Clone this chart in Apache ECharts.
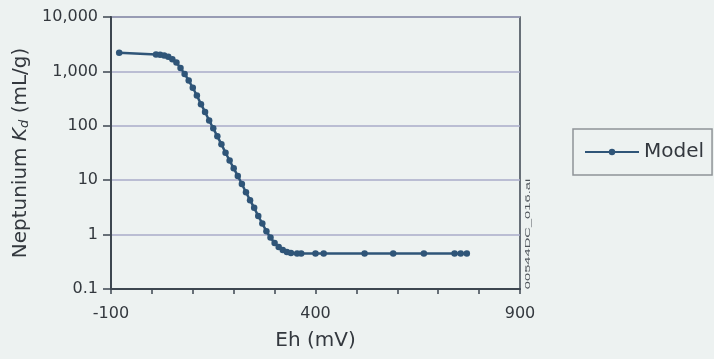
<!DOCTYPE html>
<html>
<head>
<meta charset="utf-8">
<script src="https://cdn.jsdelivr.net/npm/echarts@6/dist/echarts.min.js"></script>
<style>
  html, body {margin: 0; padding: 0; background: #edf2f1;}
  #chart {width: 714px; height: 359px;}
</style>
</head>
<body>
<div id="chart"></div>
<script>
// Eh (mV) and modelled Kd (mL/g)
const eh = [-80, 10, 20, 30, 40, 50, 60, 70, 80, 90, 100, 110, 120, 130, 140, 150, 160, 170, 180, 190,
  200, 210, 220, 230, 240, 250, 260, 270, 280, 290, 300, 310, 320, 330, 340, 355, 365, 400, 420,
  520, 590, 665, 740, 755, 770];
const kd = [2200, 2050, 2020, 1960, 1850, 1680, 1450, 1150, 900, 680, 500, 360, 250, 180, 125, 90, 64, 46, 32, 23,
  16.5, 12, 8.5, 6.0, 4.3, 3.1, 2.2, 1.6, 1.15, 0.88, 0.70, 0.59, 0.52, 0.48, 0.46, 0.45, 0.45, 0.45, 0.45,
  0.45, 0.45, 0.45, 0.45, 0.45, 0.45];
const xLabels = [-100, 400, 900];
const yLabels = {0.1: '0.1', 1: '1', 10: '10', 100: '100', 1000: '1,000', 10000: '10,000'};

const font = 'DejaVu Sans, Verdana, sans-serif';
const textColor = '#33383e';
const axisColor = '#3d4650';
const lineColor = '#2f5578';

const chart = echarts.init(document.getElementById('chart'));
chart.setOption({
  backgroundColor: '#edf2f1',
  animation: false,
  textStyle: {fontFamily: font},
  grid: {
    left: 111, right: 194, top: 17, bottom: 70,
    show: true, borderColor: axisColor, borderWidth: 1.5, backgroundColor: 'transparent'
  },
  legend: {
    left: 573, top: 129,
    padding: [13, 8, 13, 11],
    borderColor: '#8f9498', borderWidth: 1.5,
    itemWidth: 54, itemHeight: 8, itemGap: 6,
    textStyle: {color: textColor, fontSize: 20, fontFamily: font},
    data: ['Model']
  },
  xAxis: {
    type: 'value', min: -100, max: 900, interval: 100,
    name: 'Eh (mV)', nameLocation: 'middle', nameGap: 42,
    nameTextStyle: {color: textColor, fontSize: 20, fontFamily: font},
    axisLine: {lineStyle: {color: axisColor, width: 2}},
    axisTick: {length: 5, lineStyle: {color: axisColor, width: 1.5}},
    axisLabel: {
      color: textColor, fontSize: 16, margin: 17, fontFamily: font,
      formatter: v => xLabels.includes(v) ? String(v) : ''
    },
    splitLine: {show: false}
  },
  yAxis: {
    type: 'log', min: 0.1, max: 10000, logBase: 10,
    name: '{a|Neptunium }{i|K}{s|d}{a| (mL/g)}', nameLocation: 'middle', nameGap: 79, nameRotate: 90,
    nameTextStyle: {
      color: textColor, fontSize: 20, fontFamily: font,
      rich: {
        a: {fontSize: 20, color: textColor, fontFamily: font},
        i: {fontSize: 20, color: textColor, fontStyle: 'italic', fontFamily: font},
        s: {fontSize: 13, color: textColor, fontStyle: 'italic', fontFamily: font, verticalAlign: 'bottom', padding: [8, 0, 0, 0]}
      }
    },
    axisLine: {show: true, onZero: false, lineStyle: {color: axisColor, width: 2}},
    axisTick: {show: true, length: 8, lineStyle: {color: axisColor, width: 1.5}},
    axisLabel: {color: textColor, fontSize: 16, margin: 13, fontFamily: font, formatter: v => yLabels[v] || ''},
    splitLine: {show: true, lineStyle: {color: '#a9abc8', width: 1.5}}
  },
  graphic: [{
    type: 'text', x: 528, y: 234, rotation: Math.PI / 2,
    style: {text: '00544DC_016.ai', fill: '#50565c', fontSize: 7, align: 'center', verticalAlign: 'middle',
      fontFamily: 'Liberation Sans, Arial, sans-serif'},
    scaleX: 2.1
  }],
  series: [{
    name: 'Model', type: 'line',
    data: eh.map((x, i) => [x, kd[i]]),
    symbol: 'circle', symbolSize: 6.5,
    itemStyle: {color: lineColor},
    lineStyle: {color: lineColor, width: 2.5}
  }]
});
</script>
</body>
</html>
